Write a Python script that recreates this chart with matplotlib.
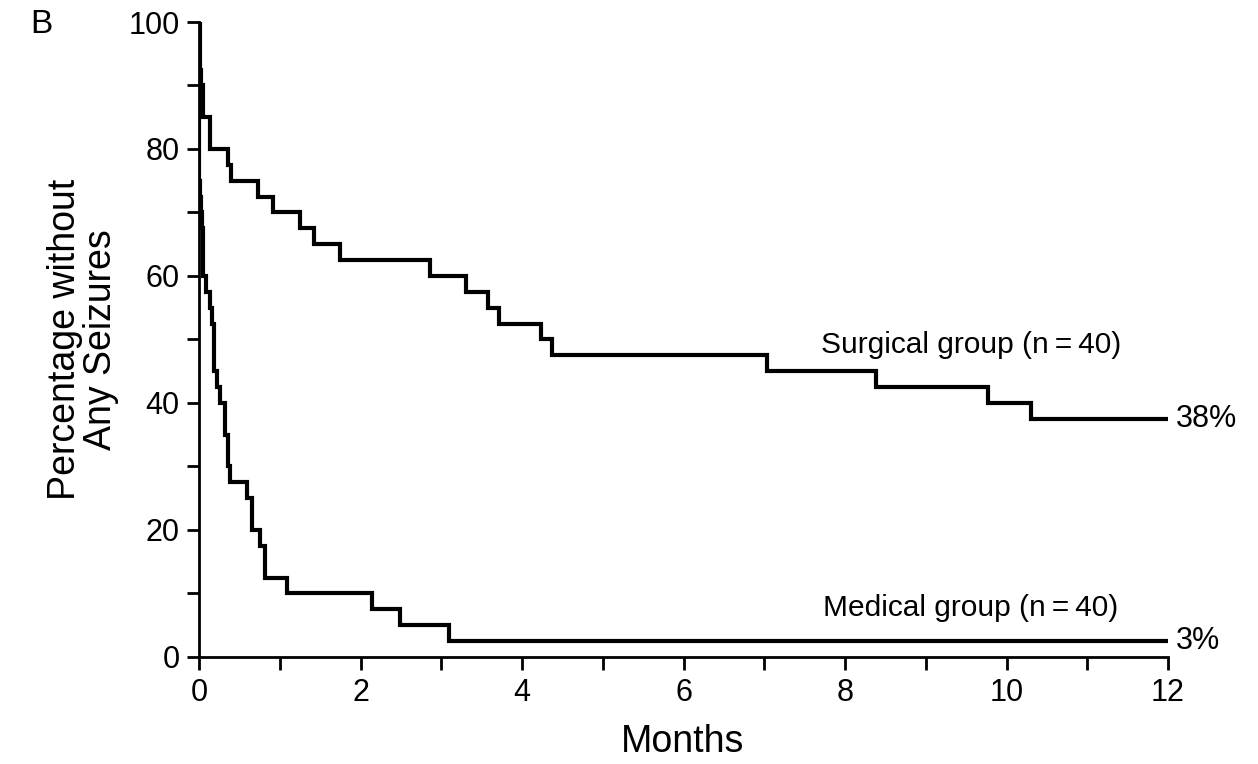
import matplotlib

matplotlib.use("Agg")
import matplotlib.pyplot as plt
from matplotlib.ticker import MultipleLocator

plt.rcParams["font.family"] = ["Liberation Sans", "DejaVu Sans"]

# Kaplan-Meier step data (months, percent seizure-free)
surg_t = [0.0, 0.01, 0.03, 0.05, 0.135, 0.36, 0.39, 0.73, 0.92, 1.25, 1.42, 1.75,
          2.86, 3.31, 3.58, 3.72, 4.24, 4.37, 7.03, 8.38, 9.77, 10.30, 12.0]
surg_y = [100, 92.5, 90, 85, 80, 77.5, 75, 72.5, 70, 67.5, 65, 62.5,
          60, 57.5, 55, 52.5, 50, 47.5, 45, 42.5, 40, 37.5, 37.5]

med_t = [0.0, 0.005, 0.015, 0.025, 0.035, 0.045, 0.05, 0.09, 0.135, 0.16, 0.18,
         0.22, 0.26, 0.32, 0.36, 0.38, 0.59, 0.65, 0.755, 0.82, 1.09, 2.14, 2.49,
         3.09, 12.0]
med_y = [100, 75, 72.5, 70, 67.5, 65, 60, 57.5, 55, 52.5, 45,
         42.5, 40, 35, 30, 27.5, 25, 20, 17.5, 12.5, 10, 7.5, 5,
         2.5, 2.5]

fig = plt.figure(figsize=(12.58, 7.64), dpi=100)
ax = fig.add_axes([0.1582, 0.1401, 0.7703, 0.8311])

ax.step(surg_t, surg_y, where="post", color="black", lw=3.0, solid_joinstyle="miter")
ax.step(med_t, med_y, where="post", color="black", lw=3.0, solid_joinstyle="miter")

ax.set_xlim(0, 12)
ax.set_ylim(0, 100)
ax.xaxis.set_major_locator(MultipleLocator(2))
ax.xaxis.set_minor_locator(MultipleLocator(1))
ax.yaxis.set_major_locator(MultipleLocator(20))
ax.yaxis.set_minor_locator(MultipleLocator(10))
ax.tick_params(which="both", direction="out", length=9, width=2.0, labelsize=22)
ax.tick_params(axis="x", pad=6)
ax.tick_params(axis="y", pad=5)
for s in ("top", "right"):
    ax.spines[s].set_visible(False)
for s in ("left", "bottom"):
    ax.spines[s].set_linewidth(2.0)

# x label placed directly, low under the tick labels as in the reference
fig.text(683 / 1258, 4 / 764, "Months", fontsize=27, ha="center", va="bottom")
ax.set_ylabel("Percentage without\nAny Seizures", fontsize=27, labelpad=7, linespacing=1.0)

ax.text(12.1, surg_y[-1], "38%", fontsize=22, va="center", ha="left", clip_on=False)
ax.text(12.1, med_y[-1], "3%", fontsize=22, va="center", ha="left", clip_on=False)
ax.text(9.56, 47, "Surgical group (n\u2009=\u200940)", fontsize=21.5, ha="center", va="bottom")
ax.text(9.56, 5.5, "Medical group (n\u2009=\u200940)", fontsize=21.5, ha="center", va="bottom")

fig.text(0.024, 0.968, "B", fontsize=24, ha="left", va="center")

fig.savefig("out.png", dpi=100, facecolor="white")
